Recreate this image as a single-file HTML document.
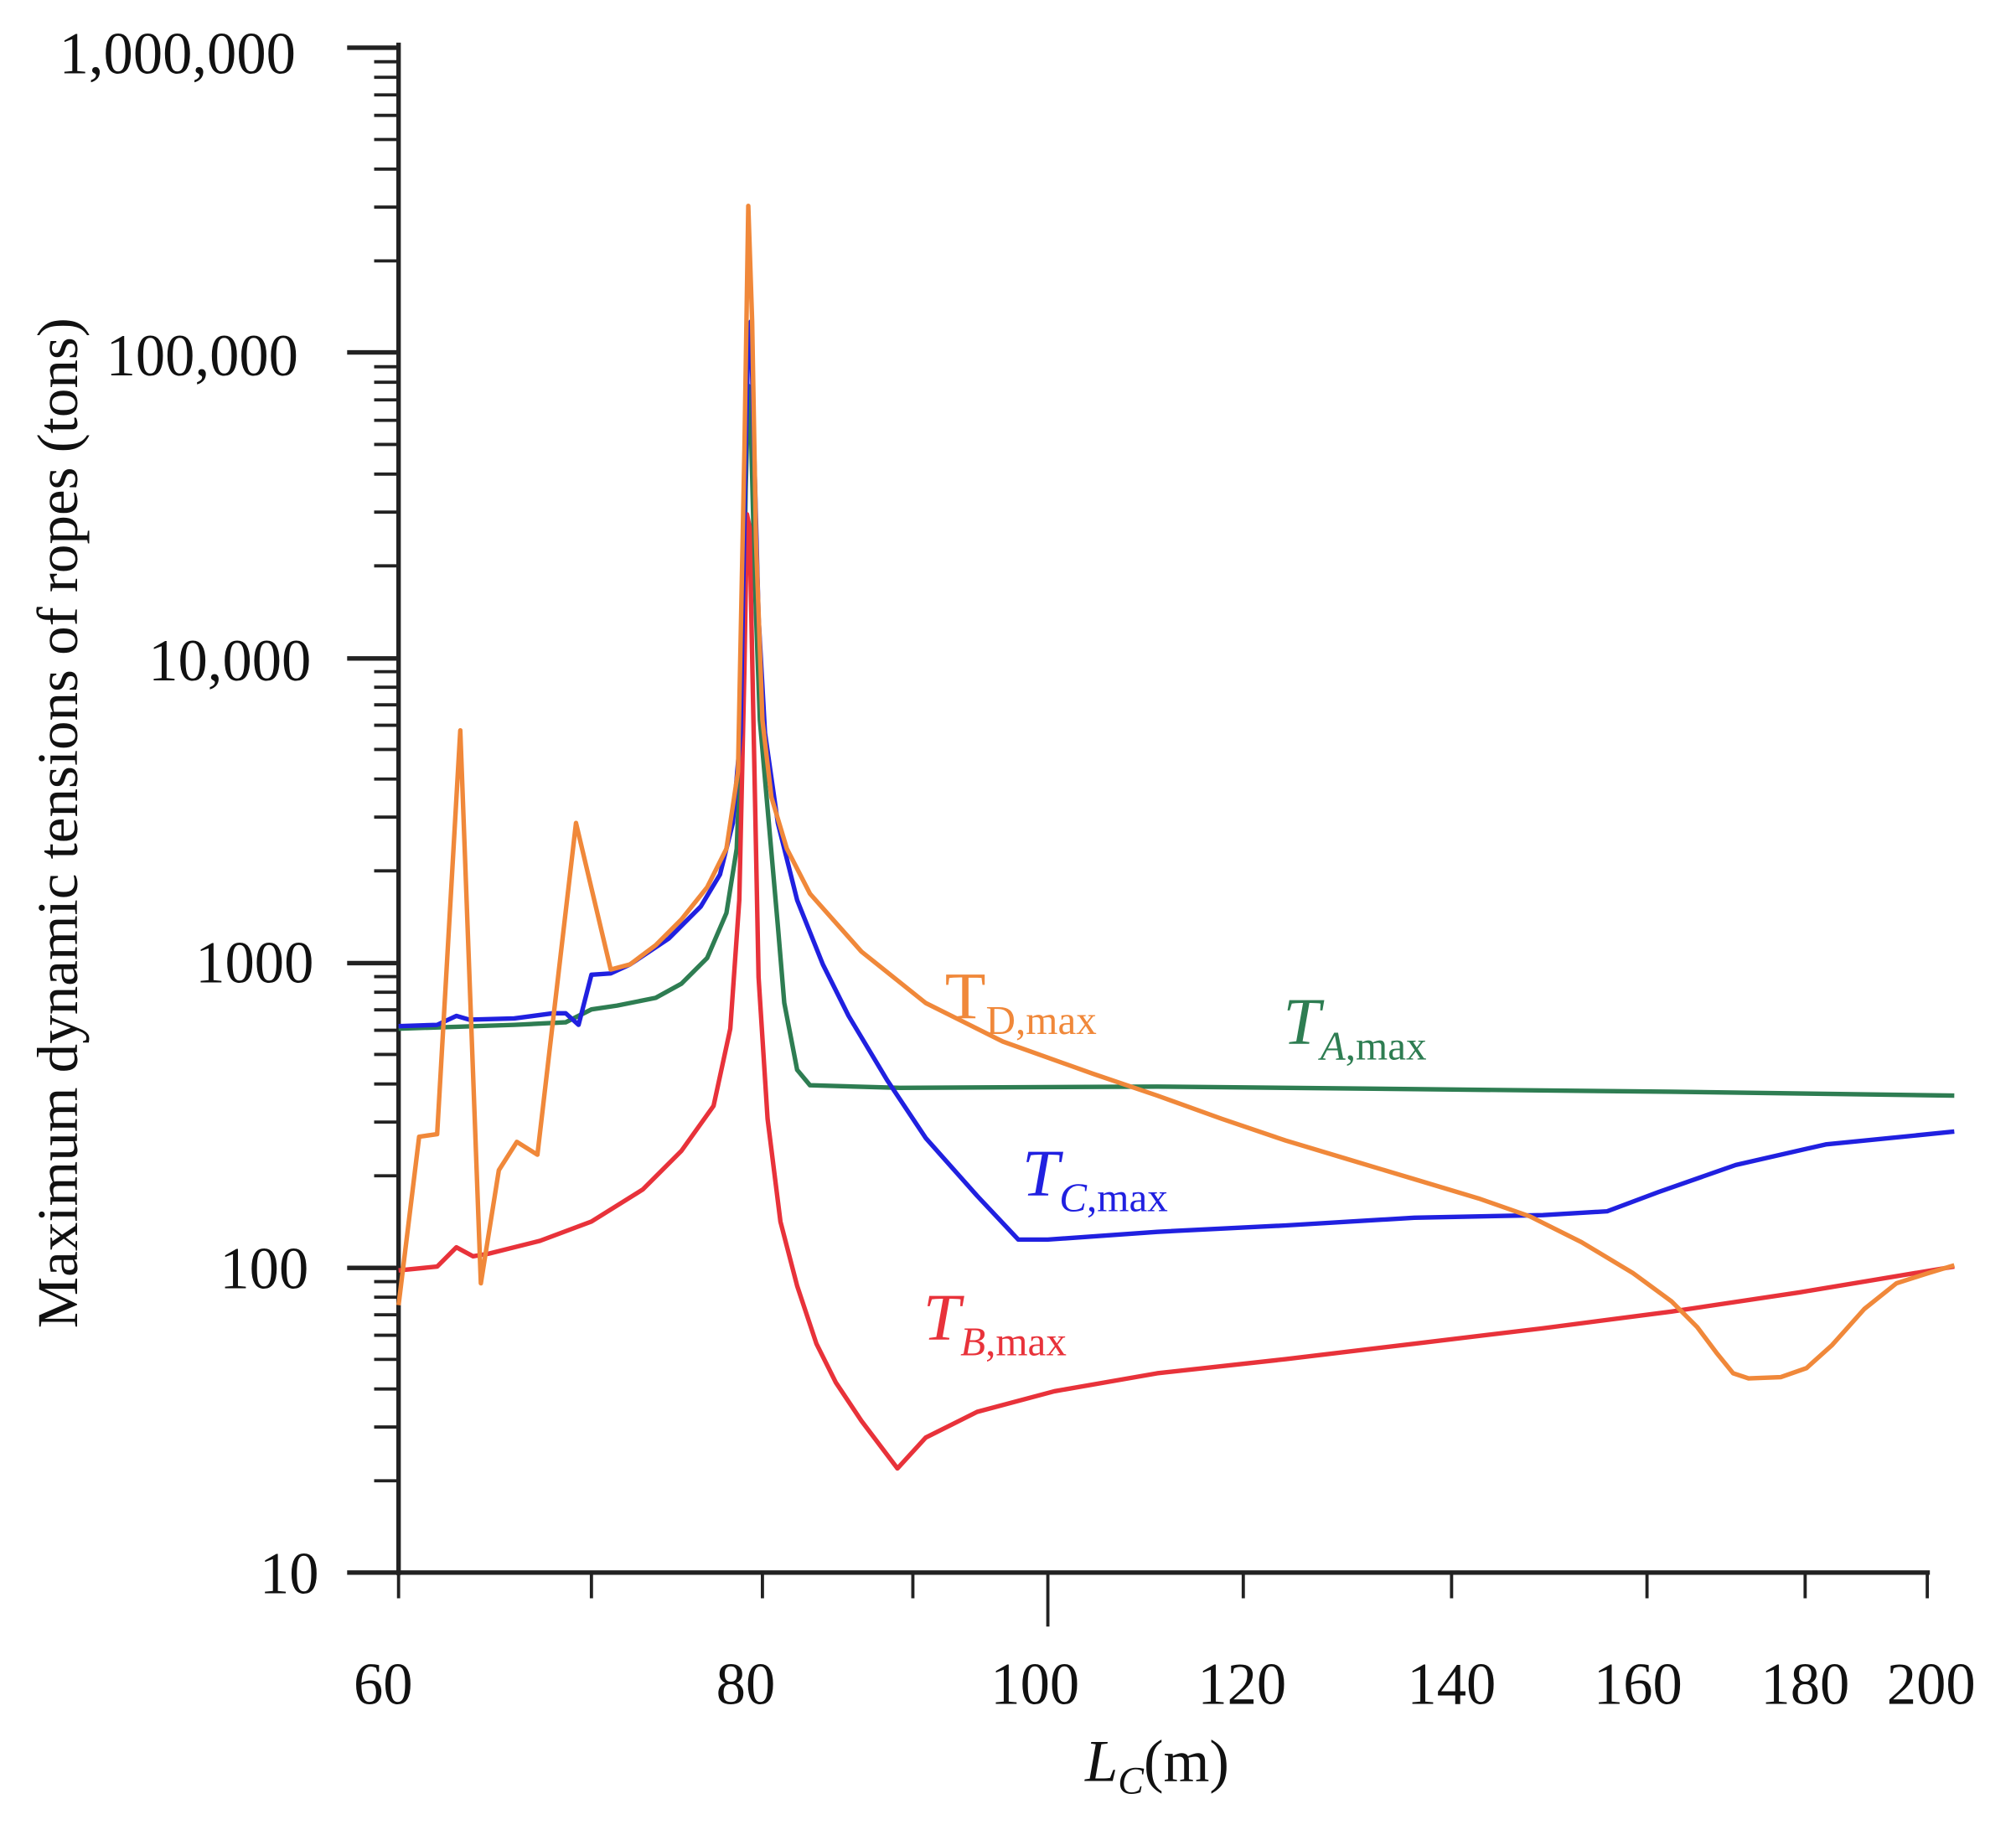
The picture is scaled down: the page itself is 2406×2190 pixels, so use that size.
<!DOCTYPE html>
<html><head><meta charset="utf-8"><style>html,body{margin:0;padding:0;background:#fff}svg{display:block}</style></head>
<body>
<svg xmlns="http://www.w3.org/2000/svg" width="2406" height="2190" viewBox="0 0 1568 1427">
<rect width="1568" height="1427" fill="#fff"/>
<g stroke="#222" stroke-width="3.5" fill="none">
<line x1="310" y1="33" x2="310" y2="1225"/>
<line x1="270" y1="1223" x2="1501" y2="1223"/>
<path d="M270 37H310M270 274H310M270 512H310M270 749H310M270 986H310"/>
</g>
<g stroke="#222" stroke-width="2.5" fill="none">
<path d="
M291 1151.6H310M291 1109.8H310M291 1080.2H310M291 1057.2H310M291 1038.4H310M291 1022.5H310M291 1008.8H310M291 996.7H310
M291 914.4H310M291 872.6H310M291 843H310M291 820H310M291 801.2H310M291 785.3H310M291 771.6H310M291 759.5H310
M291 677.2H310M291 635.4H310M291 605.8H310M291 582.8H310M291 564H310M291 548.1H310M291 534.4H310M291 522.3H310
M291 440H310M291 398.2H310M291 368.6H310M291 345.6H310M291 326.8H310M291 310.9H310M291 297.2H310M291 285.1H310
M291 202.8H310M291 161H310M291 131.4H310M291 108.4H310M291 89.6H310M291 73.7H310M291 60H310M291 47.9H310"/>
</g>
<g stroke="#222" stroke-width="2.5">
<path d="M310 1223V1243M460 1223V1243M593 1223V1243M710 1223V1243M815 1223V1265M967 1223V1243M1129 1223V1243M1281 1223V1243M1404 1223V1243M1499 1223V1243"/>
</g>
<g font-family="Liberation Serif, serif" font-size="46" fill="#111" text-anchor="end">
<text x="230" y="57">1,000,000</text>
<text x="232" y="292">100,000</text>
<text x="242" y="529">10,000</text>
<text x="244" y="764">1000</text>
<text x="240" y="1002">100</text>
<text x="248" y="1239">10</text>
</g>
<g font-family="Liberation Serif, serif" font-size="46" fill="#111" text-anchor="middle">
<text x="298" y="1325">60</text>
<text x="580" y="1325">80</text>
<text x="805" y="1325">100</text>
<text x="966" y="1325">120</text>
<text x="1129" y="1325">140</text>
<text x="1274" y="1325">160</text>
<text x="1404" y="1325">180</text>
<text x="1502" y="1325">200</text>
<text x="900" y="1385"><tspan font-style="italic">L</tspan><tspan font-style="italic" font-size="30" dy="10">C</tspan><tspan dy="-10">(m)</tspan></text>
<text transform="translate(60,640) rotate(-90)" font-size="45">Maximum dynamic tensions of ropes (tons)</text>
</g>
<g fill="none" stroke-width="3.5" stroke-linejoin="round">
<polyline stroke="#2e7d52" points="310,800 400,797 440,795 460,785 480,782 510,776 530,765 550,745 565,710 573,660 577,560 580,380 582,300 584,330 587,450 591,560 598,640 605,720 610,780 620,832 630,844 700,846 900,845 1100,847 1300,849 1520,852"/>
<polyline stroke="#e8323a" points="310,988 340,985 355,970 368,977 380,975 420,965 460,950 500,925 530,895 555,860 568,800 575,700 579,520 581,400 583,410 586,560 590,760 597,870 607,950 620,1000 635,1045 650,1075 670,1105 698,1142 720,1118 760,1098 820,1082 900,1068 1000,1057 1100,1045 1200,1033 1300,1020 1400,1005 1520,985"/>
<polyline stroke="#2020e0" points="310,798 340,797 355,790 365,793 400,792 430,788 440,788 450,797 460,758 475,757 490,750 520,730 545,705 560,680 570,640 576,570 580,350 582,260 584,250 586,330 590,480 595,570 605,640 620,700 640,750 660,790 690,840 720,885 760,930 792,964 815,964 900,958 1000,953 1100,947 1200,945 1250,942 1290,927 1350,906 1420,890 1520,880"/>
<polyline stroke="#f0883a" points="310,1015 326,884 340,882 358,568 374,998 388,910 402,888 418,898 448,640 475,754 490,750 510,735 530,715 550,690 565,660 574,600 579,350 582,160 585,250 588,420 593,560 600,620 612,660 630,695 670,740 720,780 780,810 850,835 900,852 950,870 1000,887 1050,902 1100,917 1150,932 1190,946 1230,966 1270,990 1300,1012 1320,1032 1335,1052 1348,1068 1360,1072 1385,1071 1405,1064 1425,1046 1450,1018 1475,998 1500,990 1520,984"/>
</g>
<g font-family="Liberation Serif, serif" font-size="52">
<text x="735" y="792" fill="#f0883a">T<tspan font-size="32" dy="12">D,max</tspan></text>
<text x="998" y="812" fill="#2e7d52" font-style="italic">T<tspan font-size="32" dy="12">A</tspan><tspan font-size="32" font-style="normal">,max</tspan></text>
<text x="795" y="930" fill="#2020e0" font-style="italic">T<tspan font-size="32" dy="12">C</tspan><tspan font-size="32" font-style="normal">,max</tspan></text>
<text x="718" y="1042" fill="#e8323a" font-style="italic">T<tspan font-size="32" dy="12">B</tspan><tspan font-size="32" font-style="normal">,max</tspan></text>
</g>
</svg>
</body></html>
